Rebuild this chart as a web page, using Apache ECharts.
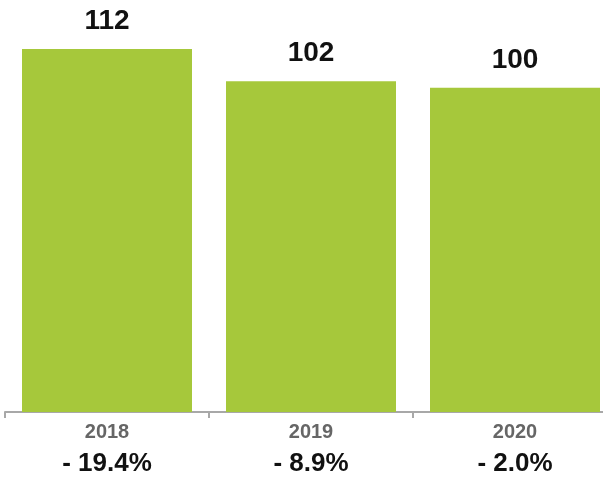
<!DOCTYPE html>
<html>
<head>
<meta charset="utf-8">
<script src="https://cdn.jsdelivr.net/npm/echarts@6/dist/echarts.min.js"></script>
<style>
  html, body { margin: 0; padding: 0; background: #fff; }
  #chart { width: 603px; height: 478px; }
</style>
</head>
<body>
<div id="chart"></div>
<script>
const years = ['2018', '2019', '2020'];
const values = [112, 102, 100];
const changes = ['- 19.4%', '- 8.9%', '- 2.0%'];

window.onload = function () {
    let chart = echarts.init(document.getElementById('chart'));
    let font = 'Liberation Sans, Arial, Helvetica, sans-serif';
    let option = {
        animation: false,
        grid: { left: 5, width: 612, top: 23, bottom: 66, outerBoundsMode: 'none', containLabel: false },
        xAxis: {
            type: 'category',
            data: years,
            axisLine: { lineStyle: { color: '#a8a8a8', width: 2 } },
            axisTick: { show: true, length: 6, lineStyle: { color: '#a8a8a8', width: 2 } },
            axisLabel: {
                margin: 5,
                formatter: function (v, i) {
                    return '{a|' + v + '}\n{b|' + changes[i] + '}';
                },
                rich: {
                    a: { fontFamily: font, fontWeight: 'bold', fontSize: 20, color: '#666666', lineHeight: 30 },
                    b: { fontFamily: font, fontWeight: 'bold', fontSize: 26, color: '#111111', lineHeight: 34 }
                }
            }
        },
        yAxis: {
            type: 'value',
            min: 0,
            max: 120,
            show: false,
            splitLine: { show: false }
        },
        series: [
            {
                type: 'bar',
                data: values,
                barWidth: 170,
                itemStyle: { color: '#a6c83b' },
                label: {
                    show: true,
                    position: 'top',
                    distance: 14,
                    fontFamily: font,
                    fontWeight: 'bold',
                    fontSize: 28,
                    color: '#111111'
                }
            }
        ]
    };
    chart.setOption(option);
}
</script>
</body>
</html>
